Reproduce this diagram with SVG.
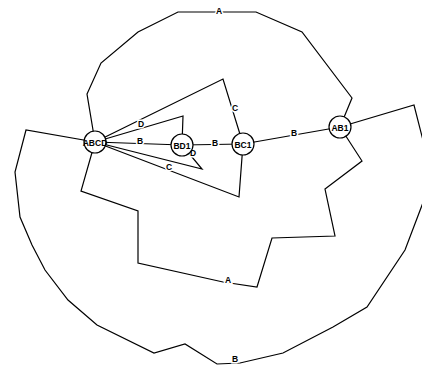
<svg xmlns="http://www.w3.org/2000/svg" width="422" height="367" viewBox="0 0 422 367">
<style>
.e{fill:none;stroke:#000;stroke-width:1.2;stroke-linejoin:miter}
.l{font-family:"Liberation Sans",Arial,sans-serif;font-size:8.5px;font-weight:bold;text-anchor:middle;dominant-baseline:central;fill:#000;stroke:#fff;stroke-width:3;paint-order:stroke}
.n circle{fill:#fff;stroke:#000;stroke-width:1.2}
.n text{font-family:"Liberation Sans",Arial,sans-serif;font-size:8.5px;font-weight:bold;text-anchor:middle;dominant-baseline:central;fill:#000}
</style>
<rect width="422" height="367" fill="#fff"/>
<g id="edges">
<polyline class="e" points="95,142 87,94 101,63 138,32 178,12 256,12 302,32 352,98 340,127"/>
<polyline class="e" points="95,142 81,191 138,211 138,263 223,282 257,287 272,238 335,236 325,189 362,161 340,127"/>
<polyline class="e" points="95,142 26,130 15,172 20,217 32,245 45,270 68,300 97,325 154,353 185,344 217,364 240,363 283,353 333,327 367,307 405,250 424,200 428,160 414,105 340,127"/>
<polyline class="e" points="95,142 182,145"/>
<polyline class="e" points="182,145 243,144"/>
<polyline class="e" points="243,144 340,127"/>
<polyline class="e" points="95,142 223,79 243,144"/>
<polyline class="e" points="95,142 239,197 243,144"/>
<polyline class="e" points="95,142 183,116 182,145"/>
<polyline class="e" points="95,142 202,169 182,145"/>
<text class="l" x="219" y="11">A</text>
<text class="l" x="228" y="280">A</text>
<text class="l" x="235" y="359">B</text>
<text class="l" x="140" y="141">B</text>
<text class="l" x="215" y="143">B</text>
<text class="l" x="294" y="133">B</text>
<text class="l" x="235" y="108">C</text>
<text class="l" x="169" y="167">C</text>
<text class="l" x="141" y="124">D</text>
<text class="l" x="193" y="153">D</text>
</g>
<g id="ABCD" class="n"><circle cx="95" cy="142" r="11"/><text x="95" y="142.5">ABCD</text></g>
<g id="BD1" class="n"><circle cx="182" cy="145" r="11"/><text x="182" y="145.5">BD1</text></g>
<g id="BC1" class="n"><circle cx="243" cy="144" r="11"/><text x="243" y="144.5">BC1</text></g>
<g id="AB1" class="n"><circle cx="340" cy="127" r="11"/><text x="340" y="127.5">AB1</text></g>
</svg>
